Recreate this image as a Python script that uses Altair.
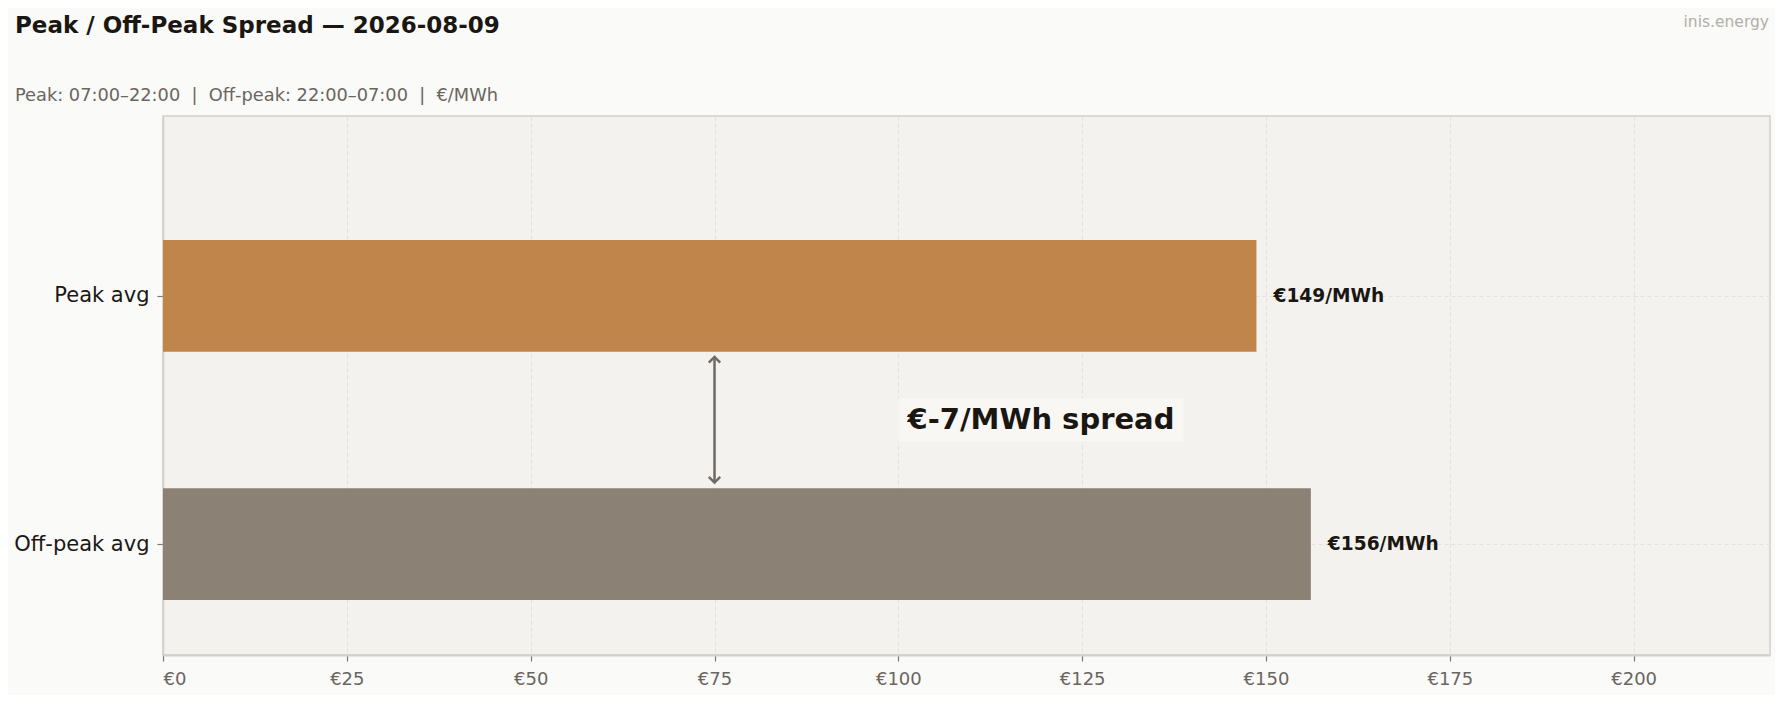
import altair as alt
import pandas as pd

# ---- data ----
categories = ["Peak avg", "Off-peak avg"]
values = [148.7, 156.1]          # €/MWh
row_pos = [1, 0]                 # vertical slot of each bar
bar_colors = ["#c0854a", "#8c8175"]
x_ticks = [0, 25, 50, 75, 100, 125, 150, 175, 200]
title_text = "Peak / Off-Peak Spread — 2026-08-09"
subtitle_text = "Peak: 07:00–22:00  |  Off-peak: 22:00–07:00  |  €/MWh"
watermark = "inis.energy"
arrow_x = [75]
spread_anchor_x = [119.4]

FONT = "DejaVu Sans"
W, H = 1607, 539
x_max = max(values) * 1.4
y_dom = [-0.447, 1.725]

bars_df = pd.DataFrame({"cat": categories, "value": values, "pos": row_pos, "color": bar_colors})
spread = values[0] - values[1]
ann_df = pd.DataFrame({
    "ax": arrow_x,
    "sx": spread_anchor_x,
    "label": [f"€{spread:.0f}/MWh spread"],
})

xscale = alt.Scale(domain=[0, x_max], nice=False, zero=True)
yscale = alt.Scale(domain=y_dom, nice=False, zero=False)

base = alt.Chart(bars_df)

bars = base.transform_calculate(
    y0="datum.pos - 0.225", y1="datum.pos + 0.225", x0="0"
).mark_rect().encode(
    x=alt.X("x0:Q", scale=xscale, axis=alt.Axis(
        values=x_ticks, labelExpr="'€' + datum.value", title=None,
        grid=True, gridDash=[4, 3], gridColor="#e4e1dc", gridWidth=1,
        labelFontSize=18, labelColor="#6b6560", labelFont=FONT, labelPadding=9,
        tickSize=6, tickColor="#7d7772", tickWidth=1.2,
        domainColor="#d3cfc9", domainWidth=2)),
    x2="value:Q",
    y=alt.Y("y0:Q", scale=yscale, axis=alt.Axis(
        values=[0, 1], labelExpr="datum.value == 1 ? 'Peak avg' : 'Off-peak avg'",
        title=None, grid=True, gridDash=[4, 3], gridColor="#e4e1dc", gridWidth=1,
        labelFontSize=21, labelColor="#1a1714", labelFont=FONT, labelPadding=8,
        tickSize=6, tickColor="#7d7772", tickWidth=1.2,
        domainColor="#d3cfc9", domainWidth=1.5)),
    y2="y1:Q",
    color=alt.Color("color:N", scale=None),
)

value_labels = base.transform_calculate(
    lab="'€' + format(datum.value, '.0f') + '/MWh'"
).mark_text(align="left", baseline="middle", dx=17, font=FONT, fontSize=18.6,
            fontWeight="bold", color="#1a1612").encode(
    x=alt.X("value:Q", scale=xscale),
    y=alt.Y("pos:Q", scale=yscale),
    text="lab:N",
)

ann = alt.Chart(ann_df)

box = ann.transform_calculate(
    bx0="datum.sx - 19.4", bx1="datum.sx + 19.4", by0="0.413", by1="0.588"
).mark_rect(color="#f8f7f4").encode(
    x=alt.X("bx0:Q", scale=xscale), x2="bx1:Q",
    y=alt.Y("by0:Q", scale=yscale), y2="by1:Q",
)

spread_text = ann.transform_calculate(ty="0.5").mark_text(
    align="center", baseline="middle", font=FONT, fontSize=29,
    fontWeight="bold", color="#1a1612").encode(
    x=alt.X("sx:Q", scale=xscale),
    y=alt.Y("ty:Q", scale=yscale),
    text="label:N",
)

arrow_line = ann.transform_calculate(ay0="0.25", ay1="0.752").mark_rule(
    color="#706a65", strokeWidth=2.5).encode(
    x=alt.X("ax:Q", scale=xscale),
    y=alt.Y("ay0:Q", scale=yscale), y2="ay1:Q",
)

head_up = ann.transform_calculate(hy="0.754").mark_point(
    shape="M-1,1L0,0L1,1", filled=False, size=130, strokeWidth=2.5,
    color="#706a65", opacity=1).encode(
    x=alt.X("ax:Q", scale=xscale), y=alt.Y("hy:Q", scale=yscale))

head_down = ann.transform_calculate(hy="0.248").mark_point(
    shape="M-1,-1L0,0L1,-1", filled=False, size=130, strokeWidth=2.5,
    color="#706a65", opacity=1).encode(
    x=alt.X("ax:Q", scale=xscale), y=alt.Y("hy:Q", scale=yscale))

# header texts (title, subtitle, watermark) placed in the padding above the plot
wm = alt.Chart(pd.DataFrame({"t": [watermark]})).mark_text(
    align="right", baseline="alphabetic", font=FONT, fontSize=15.5,
    color="#b3aea8").encode(
    x=alt.value(W - 1), y=alt.value(-89), text="t:N")

title_mark = alt.Chart(pd.DataFrame({"t": [title_text]})).mark_text(
    align="left", baseline="alphabetic", font=FONT, fontSize=23,
    fontWeight="bold", color="#1a1612").encode(
    x=alt.value(-148), y=alt.value(-83), text="t:N")

# keep the double spaces visible (SVG collapses ordinary runs of spaces)
subtitle_shown = subtitle_text.replace("  ", "\u00a0\u00a0")
subtitle_mark = alt.Chart(pd.DataFrame({"t": [subtitle_shown]})).mark_text(
    align="left", baseline="alphabetic", font=FONT, fontSize=17.8,
    color="#6b6560").encode(
    x=alt.value(-148), y=alt.value(-15), text="t:N")

chart = alt.layer(
    bars, value_labels, box, spread_text, arrow_line, head_up, head_down,
    wm, title_mark, subtitle_mark
).properties(
    width=W, height=H,
    autosize=alt.AutoSizeParams(type="none"),
    padding={"left": 155, "top": 108, "right": 5, "bottom": 40},
    background="#fafaf8",
).configure_view(
    fill="#f3f2ee", stroke="#d3cfc9", strokeWidth=1.5
)

chart.save("out.html", embed_options={"renderer": "svg", "actions": False})
